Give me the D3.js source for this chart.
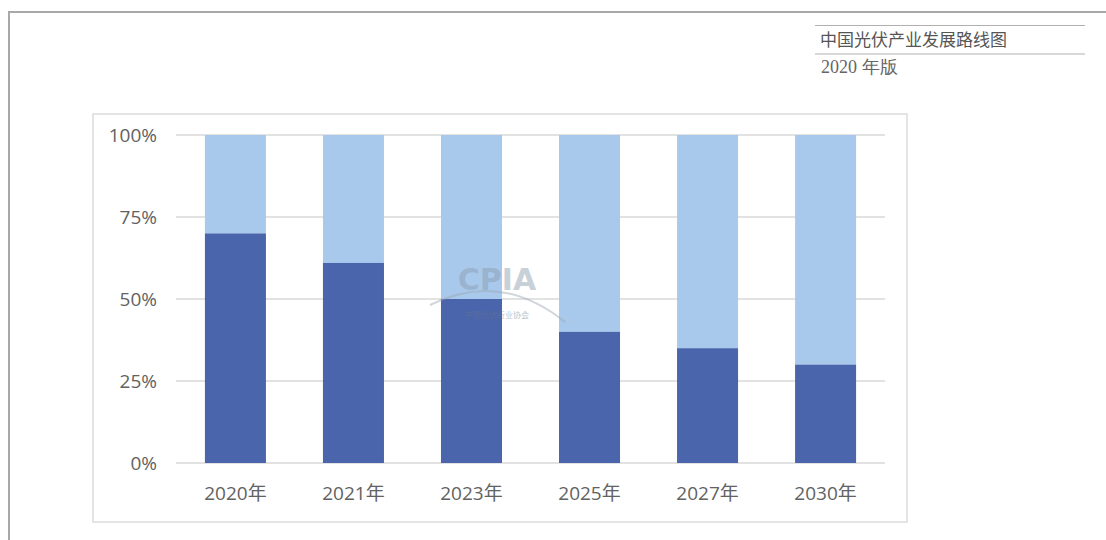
<!DOCTYPE html>
<html lang="zh">
    <head>
        <meta charset="utf-8">
        <title>中国光伏产业发展路线图</title>
        <script src="https://d3js.org/d3.v7.min.js"></script>
        <style>
            body { margin: 0; background: #fff; }
        </style>
    </head>
    <body>
        <script>
            const years = ['2020年', '2021年', '2023年', '2025年', '2027年', '2030年'];
            const darkShare = [70, 61, 50, 40, 35, 30];
            const yTicks = [0, 25, 50, 75, 100];

            const w = 1106;
            const h = 540;

            const svg = d3.select('body')
                          .append('svg')
                          .attr('width', w)
                          .attr('height', h)
                          .style('font-family', '"Noto Sans CJK SC", "Noto Sans", sans-serif')

            // page frame
            svg.append('path')
               .attr('d', 'M9,540 V12 H1106')
               .attr('fill', 'none')
               .attr('stroke', '#a8a8a8')
               .attr('stroke-width', 2)

            // header
            svg.append('line')
               .attr('x1', 815).attr('x2', 1085).attr('y1', 25.5).attr('y2', 25.5)
               .attr('stroke', '#b0b0b0')
            svg.append('line')
               .attr('x1', 815).attr('x2', 1085).attr('y1', 54).attr('y2', 54)
               .attr('stroke', '#b0b0b0')
            svg.append('text')
               .text('中国光伏产业发展路线图')
               .attr('x', 820)
               .attr('y', 46)
               .attr('font-size', 17)
               .attr('fill', '#555')
            svg.append('text')
               .text('2020 年版')
               .attr('x', 821)
               .attr('y', 73)
               .attr('font-size', 18)
               .attr('font-family', '"Liberation Serif", serif')
               .attr('fill', '#666')

            // chart box
            svg.append('rect')
               .attr('x', 93).attr('y', 114)
               .attr('width', 814).attr('height', 408)
               .attr('fill', '#fff')
               .attr('stroke', '#dcdcdc')
               .attr('stroke-width', 1.5)

            const x = d3.scaleBand()
                        .domain(years)
                        .range([176, 885])
                        .paddingInner(0.483)
                        .paddingOuter(0.245)
            const y = d3.scaleLinear()
                        .domain([0, 100])
                        .range([463, 135])

            // grid
            svg.append('g')
               .selectAll('line')
               .data(yTicks)
               .enter()
               .append('line')
               .attr('x1', 176).attr('x2', 885)
               .attr('y1', d => y(d)).attr('y2', d => y(d))
               .attr('stroke', '#d9d9d9')
               .attr('stroke-width', 1.5)

            const yAxis = d3.axisLeft(y)
                            .tickValues(yTicks)
                            .tickSize(0)
                            .tickPadding(0)
                            .tickFormat(d => d + '%')
            svg.append('g')
               .attr('transform', 'translate(157,0)')
               .call(yAxis)
               .call(g => g.select('.domain').remove())
               .call(g => g.selectAll('text')
                           .attr('font-size', 19)
                           .attr('fill', '#626262')
                           .attr('font-family', '"Open Sans", "Noto Sans", sans-serif'))

            // bars
            svg.append('g')
               .selectAll('rect')
               .data(years)
               .enter()
               .append('rect')
               .attr('x', d => x(d))
               .attr('width', x.bandwidth())
               .attr('y', (d, i) => y(100))
               .attr('height', (d, i) => y(darkShare[i]) - y(100))
               .attr('fill', '#a9c9ec')
            svg.append('g')
               .selectAll('rect')
               .data(years)
               .enter()
               .append('rect')
               .attr('x', d => x(d))
               .attr('width', x.bandwidth())
               .attr('y', (d, i) => y(darkShare[i]))
               .attr('height', (d, i) => y(0) - y(darkShare[i]))
               .attr('fill', '#4a65ab')

            const xAxis = d3.axisBottom(x)
                            .tickSize(0)
                            .tickPadding(0)
            svg.append('g')
               .attr('transform', 'translate(0,486)')
               .call(xAxis)
               .call(g => g.select('.domain').remove())
               .call(g => g.selectAll('text')
                           .attr('font-size', 19)
                           .attr('fill', '#626262')
                           .attr('font-family', '"Open Sans", "Noto Sans CJK SC", sans-serif'))

            // watermark
            const wm = svg.append('g').attr('opacity', 0.45)
            wm.append('text')
              .text('CPIA')
              .attr('x', 497).attr('y', 290)
              .attr('text-anchor', 'middle')
              .attr('font-size', 30)
              .attr('font-weight', 'bold')
              .attr('fill', '#8a9aaa')
              .attr('font-family', '"DejaVu Sans", sans-serif')
            wm.append('path')
              .attr('d', 'M430,305 Q500,270 565,322')
              .attr('fill', 'none')
              .attr('stroke', '#9aa6b2')
              .attr('stroke-width', 2)
            wm.append('text')
              .text('中国光伏行业协会')
              .attr('x', 497).attr('y', 318)
              .attr('text-anchor', 'middle')
              .attr('font-size', 8)
              .attr('fill', '#6a7a8a')
        </script>
    </body>
</html>
